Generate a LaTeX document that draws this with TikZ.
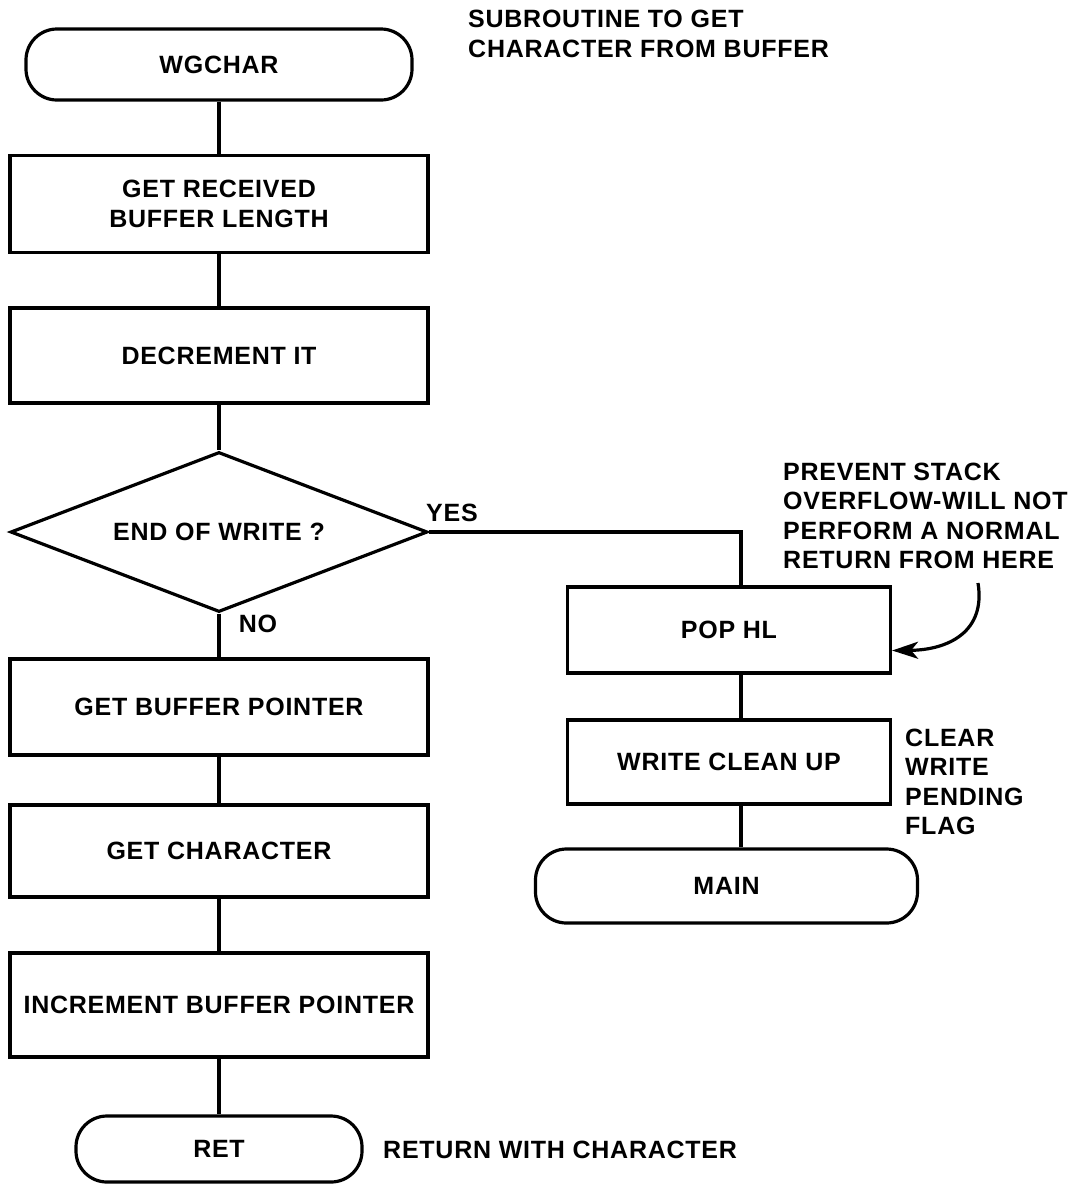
\documentclass[tikz,border=0pt]{standalone}
\usepackage{fontspec}
\setmainfont{Liberation Sans}[LetterSpace=3]
\usetikzlibrary{shapes.geometric,arrows.meta,calc}

\tikzset{
  txt/.style={font=\fontsize{25}{29.5}\selectfont\bfseries, inner sep=0pt},
  procbox/.style={draw, line width=3.2pt, rectangle, inner sep=0pt, align=center, txt},
  termbox/.style={draw, line width=3.2pt, rectangle, rounded corners=31pt, inner sep=0pt, txt},
  decbox/.style={draw, line width=3.2pt, diamond, aspect=2.6, inner sep=0pt, txt},
  link/.style={line width=3.2pt},
  note/.style={txt, align=left, anchor=west},
  tag/.style={txt},
}

\begin{document}
\begin{tikzpicture}[x=1pt, y=-1pt]
  \useasboundingbox (0,0) rectangle (1077,1184);

  % main column
  \node[termbox, minimum width=386pt, minimum height=71pt] (wg) at (219,64.5) {WGCHAR};
  \node[procbox, minimum width=418pt, minimum height=97pt] (b1) at (219,204) {GET RECEIVED\\BUFFER LENGTH};
  \node[procbox, minimum width=418pt, minimum height=95pt] (b2) at (219,355.5) {DECREMENT IT};
  \node[decbox, minimum width=417pt, minimum height=160pt] (d) at (219,532) {END OF WRITE ?};
  \node[procbox, minimum width=418pt, minimum height=96pt] (b3) at (219,707) {GET BUFFER POINTER};
  \node[procbox, minimum width=418pt, minimum height=92pt] (b4) at (219,851) {GET CHARACTER};
  \node[procbox, minimum width=418pt, minimum height=104pt] (b5) at (219,1005) {INCREMENT BUFFER POINTER};
  \node[termbox, minimum width=286pt, minimum height=66pt] (ret) at (219,1149) {RET};

  % exit branch
  \node[procbox, minimum width=323pt, minimum height=86pt] (pop) at (729,630) {POP HL};
  \node[procbox, minimum width=323pt, minimum height=84pt] (wcu) at (729,762) {WRITE CLEAN UP};
  \node[termbox, minimum width=382pt, minimum height=74pt] (mn) at (726.5,886) {MAIN};
  \coordinate (rc) at (741,0);

  % connectors
  \draw[link] (wg) -- (b1);
  \draw[link] (b1) -- (b2);
  \draw[link] (b2) -- (d);
  \draw[link] (d) -- (b3);
  \draw[link] (b3) -- (b4);
  \draw[link] (b4) -- (b5);
  \draw[link] (b5) -- (ret);
  \draw[link] (d.east) -- (d.east -| rc) -- (pop.north -| rc);
  \draw[link] (pop.south -| rc) -- (wcu.north -| rc);
  \draw[link] (wcu.south -| rc) -- (mn.north -| rc);

  % branch labels
  \node[tag] (yes) at (452,513) {YES};
  \node[tag] (no) at (258,624) {NO};

  % annotations
  \node[note] (title) at (468,34) {SUBROUTINE TO GET\\CHARACTER FROM BUFFER};
  \node[note] (why) at (783,516) {PREVENT STACK\\OVERFLOW-WILL NOT\\PERFORM A NORMAL\\RETURN FROM HERE};
  \node[note] (clr) at (905,782) {CLEAR\\WRITE\\PENDING\\FLAG};
  \node[note] (rw) at (383,1150) {RETURN WITH CHARACTER};

  % pointer from the note to POP HL
  \coordinate (cs) at (978,583);
  \draw[link, -{Stealth[length=26pt, width=17pt, inset=7pt]}]
    (cs) .. controls (986,632) and (948,650) .. ($(pop.south east)!0.27!(pop.north east)$);
\end{tikzpicture}
\end{document}
